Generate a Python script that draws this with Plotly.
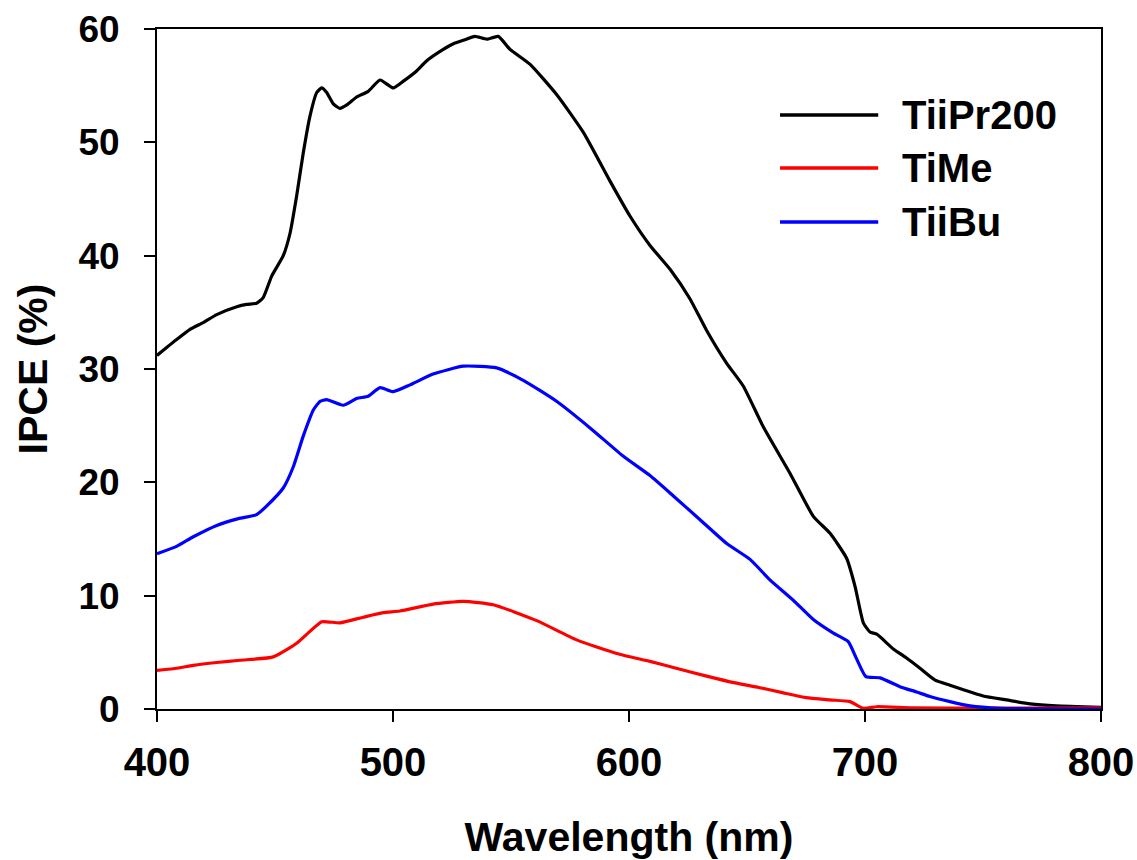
import plotly.graph_objects as go

# ---- data ----
wl_tiipr = [400, 408.3, 414, 419.6, 425.3, 433.8, 438, 442.2, 445, 448.6, 453.5, 456.4, 459.2, 462,
            464.8, 467.7, 469.8, 471.9, 474.7, 477.5, 480.4, 484.6, 489.5, 494.5, 500.1, 504.4, 510,
            514.3, 521.3, 525.6, 529.8, 534.7, 539.7, 544.6, 549.6, 558, 569.4, 580.6, 591.9, 600.4,
            608.9, 617.4, 625.8, 632.9, 641.4, 648.4, 656.9, 668.2, 678.1, 685.2, 692.2, 695.8, 699.3,
            702.1, 705, 712, 717.6, 723.3, 729.7, 736, 741.7, 750.1, 760, 770, 781, 800]
ipce_tiipr = [31.2, 32.6, 33.5, 34.1, 34.8, 35.5, 35.7, 35.8, 36.3, 38.2, 40.0, 42.0, 45.3, 49.1,
              52.3, 54.4, 54.8, 54.4, 53.4, 53.0, 53.3, 54.0, 54.5, 55.5, 54.8, 55.4, 56.3,
              57.2, 58.2, 58.7, 59.0, 59.35, 59.1, 59.35, 58.2, 56.9, 54.2, 50.9, 46.6, 43.5,
              40.9, 38.8, 36.2, 33.4, 30.5, 28.5, 24.9, 20.8, 17.0, 15.5, 13.3, 10.8, 7.6,
              6.8, 6.6, 5.3, 4.5, 3.6, 2.55, 2.1, 1.7, 1.15, 0.8, 0.45, 0.27, 0.15]

wl_time = [400, 406.9, 415.4, 425.3, 435.2, 449.3, 459.2, 464.8, 469.8, 477.5, 487.4, 495.8, 502.9,
           517, 529.8, 542.5, 560.9, 577.8, 594.8, 608.9, 620, 632.9, 645, 655, 665, 675, 685, 693.6,
           699.3, 705, 720, 750, 800]
ipce_time = [3.4, 3.55, 3.85, 4.1, 4.3, 4.6, 5.8, 6.85, 7.7, 7.6, 8.1, 8.5, 8.65,
             9.25, 9.5, 9.2, 7.8, 6.1, 4.9, 4.2, 3.6, 2.9, 2.3, 1.9, 1.45, 1.0, 0.8, 0.65,
             0.06, 0.2, 0.1, 0.08, 0.1]

wl_tiibu = [400, 408.3, 415.4, 425.3, 434.5, 442.2, 446.4, 453.5, 457.8, 462, 466.3, 469.1, 471.9,
            478.9, 484.6, 489.5, 494.5, 500.1, 507.2, 517, 529.8, 543.9, 555.2, 569.3, 583.5, 597.6,
            608.9, 618.8, 630.1, 641.4, 651.3, 659.7, 669.6, 678.1, 686.6, 692.9, 696.5, 700.4,
            706.4, 714.8, 721.9, 727.5, 736, 744.5, 757.2, 800]
ipce_tiibu = [13.7, 14.35, 15.2, 16.2, 16.8, 17.15, 17.9, 19.5, 21.4, 24.1, 26.4, 27.15, 27.3,
              26.8, 27.4, 27.6, 28.35, 28.0, 28.6, 29.55, 30.25, 30.1, 29.0, 27.15, 24.8, 22.3,
              20.6, 18.8, 16.7, 14.6, 13.2, 11.4, 9.6, 7.9, 6.7, 5.95, 4.4, 2.85,
              2.75, 1.97, 1.5, 1.1, 0.65, 0.27, 0.06, 0.0]

series_names = ["TiiPr200", "TiMe", "TiiBu"]
series_colors = ["#000000", "#ff0000", "#0000ff"]
x_ticks = [400, 500, 600, 700, 800]
y_ticks = [0, 10, 20, 30, 40, 50, 60]

FONT = "Liberation Sans, Arial, sans-serif"

fig = go.Figure()
for name, xs, ys, col in zip(series_names,
                             [wl_tiipr, wl_time, wl_tiibu],
                             [ipce_tiipr, ipce_time, ipce_tiibu],
                             series_colors):
    fig.add_trace(go.Scatter(x=xs, y=ys, mode="lines", name=name,
                             line=dict(color=col, width=3.2, shape="spline", smoothing=0.5),
                             showlegend=False))

# manual legend (long line samples as in the reference)
leg_y = [0.8735, 0.7956, 0.716]
for name, col, yy in zip(series_names, series_colors, leg_y):
    fig.add_shape(type="line", xref="paper", yref="paper", x0=0.66, x1=0.764, y0=yy, y1=yy,
                  line=dict(color=col, width=3.5))
    fig.add_annotation(xref="paper", yref="paper", x=0.787, y=yy, text=name, showarrow=False,
                       xanchor="left", yanchor="middle",
                       font=dict(family=FONT, size=40, color="black", weight="bold"))

fig.update_layout(
    width=1137, height=860,
    margin=dict(l=157, r=36, t=29, b=151),
    paper_bgcolor="white", plot_bgcolor="white",
    font=dict(family=FONT, color="black", weight="bold"),
)
fig.update_xaxes(
    range=[400, 800], tickvals=x_ticks, ticks="outside", ticklen=11, tickwidth=2,
    tickcolor="black", showline=True, linecolor="black", linewidth=2, mirror=True,
    showgrid=False, zeroline=False, ticklabelstandoff=6,
    tickfont=dict(family=FONT, size=40, color="black", weight="bold"),
    title=dict(text="Wavelength (nm)", standoff=41,
               font=dict(family=FONT, size=41, color="black", weight="bold")),
    automargin=False,
)
fig.update_yaxes(
    range=[0, 60], tickvals=y_ticks, ticks="outside", ticklen=11, tickwidth=2,
    tickcolor="black", showline=True, linecolor="black", linewidth=2, mirror=True,
    showgrid=False, zeroline=False, ticklabelstandoff=17,
    tickfont=dict(family=FONT, size=37, color="black", weight="bold"),
    title=dict(text="IPCE (%)", standoff=18,
               font=dict(family=FONT, size=41, color="black", weight="bold")),
    automargin=False,
)

fig.write_html("out.html", config={"displayModeBar": False},
               post_script="document.body.style.margin='0';document.body.style.overflow='hidden';")
